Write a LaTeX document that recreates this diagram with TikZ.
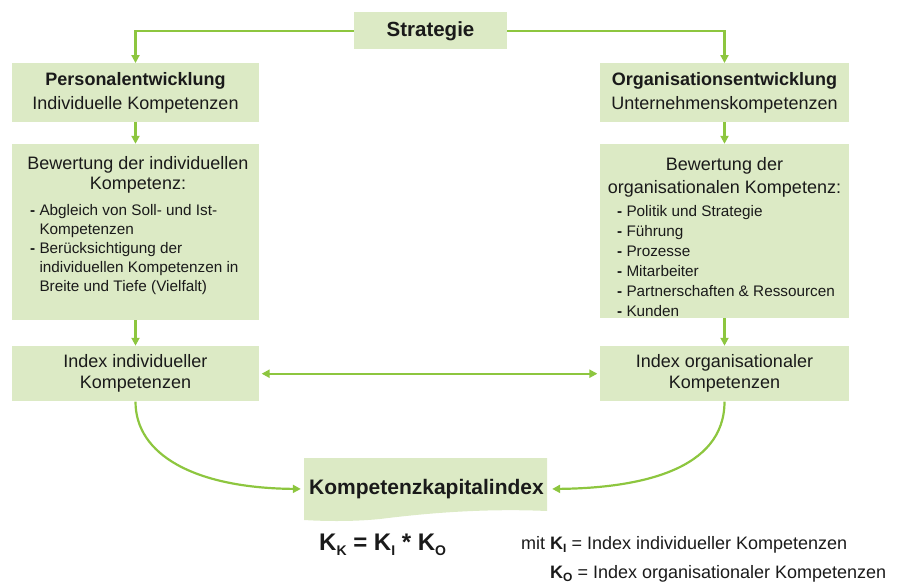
\documentclass[tikz,border=0pt]{standalone}
\usepackage{fontspec}
\setmainfont{Liberation Sans}
\usetikzlibrary{arrows.meta}
\definecolor{boxgreen}{RGB}{220,234,197}
\definecolor{arrgreen}{RGB}{141,198,63}
\definecolor{txtc}{RGB}{26,26,26}
\newcommand{\mysub}[2]{\raisebox{-#1}{\fontsize{14}{14}\selectfont\bfseries #2}}
\newcommand{\mysmallsub}[1]{\raisebox{-3.5pt}{\fontsize{12}{12}\selectfont\bfseries #1}}
\newcommand{\mydash}{\makebox[9.3pt][l]{\textbf{-}}}
\tikzset{
  box/.style={fill=boxgreen, inner sep=0pt, align=center, text=txtc, font=\fontsize{18}{24}\selectfont},
  conn/.style={draw=arrgreen, line width=2.2pt, -{Triangle[length=8pt,width=8pt]}},
  txtnode/.style={inner sep=0pt, text=txtc},
}
\begin{document}
\begin{tikzpicture}[x=1pt,y=-1pt]
\useasboundingbox (0,0) rectangle (903,584);
% boxes
\node[box, minimum width=153, minimum height=37, font=\fontsize{20.5}{24}\selectfont\bfseries] (strat) at (430.5,30.8) {Strategie};
\node[box, minimum width=247, minimum height=58.7] (pe) at (135.5,92.6) {\textbf{Personalentwicklung}\\Individuelle Kompetenzen};
\node[box, minimum width=249, minimum height=58.7] (oe) at (724.5,92.6) {\textbf{Organisationsentwicklung}\\Unternehmenskompetenzen};
\node[box, minimum width=247, minimum height=176] (bwl) at (135.5,232) {};
\node[box, minimum width=249, minimum height=174] (bwr) at (724.5,231) {};
\node[box, minimum width=247, minimum height=55.5, font=\fontsize{18}{21}\selectfont] (il) at (135.5,373.7) {Index individueller\\Kompetenzen};
\node[box, minimum width=249, minimum height=55.5, font=\fontsize{18}{21}\selectfont] (ir) at (724.5,373.7) {Index organisationaler\\Kompetenzen};
% texts of the evaluation boxes
\node[txtnode, anchor=north, align=center, font=\fontsize{18}{20.6}\selectfont] (bwlh) at (138,156) {Bewertung der individuellen\\Kompetenz:};
\node[txtnode, anchor=north west, align=left, font=\fontsize{15.3}{19}\selectfont] (bwll) at (30,204) {\mydash Abgleich von Soll- und Ist-\\\hspace*{9.3pt}Kompetenzen\\\mydash Berücksichtigung der\\\hspace*{9.3pt}individuellen Kompetenzen in\\\hspace*{9.3pt}Breite und Tiefe (Vielfalt)};
\node[txtnode, anchor=north, align=center, font=\fontsize{18}{23}\selectfont] (bwrh) at (724.5,157) {Bewertung der\\organisationalen Kompetenz:};
\node[txtnode, anchor=north west, align=left, font=\fontsize{15.3}{20}\selectfont] (bwrl) at (617,205) {\mydash Politik und Strategie\\\mydash Führung\\\mydash Prozesse\\\mydash Mitarbeiter\\\mydash Partnerschaften \& Ressourcen\\\mydash Kunden};
% result box (document shape)
\fill[boxgreen] (304,458) -- (547,458) -- (547,511) .. controls (480,508) and (420,514) .. (380,519) .. controls (350,522) and (320,521) .. (304,520) -- cycle;
\node[txtnode, minimum width=243, minimum height=62, font=\fontsize{21}{24}\selectfont\bfseries] (kki) at (426.5,489) {Kompetenzkapitalindex};
% connectors
\draw[conn] (strat.west) -| (pe.north);
\draw[conn] (strat.east) -| (oe.north);
\draw[conn] (pe.south) -- (bwl.north);
\draw[conn] (oe.south) -- (bwr.north);
\draw[conn] (bwl.south) -- (il.north);
\draw[conn] (bwr.south) -- (ir.north);
\draw[conn, {Triangle[length=8pt,width=8pt]}-{Triangle[length=8pt,width=8pt]}, shorten <=2.4pt, shorten >=2.4pt] (il.east) -- (ir.west);
\draw[conn, shorten >=4pt] (il.south) .. controls (135.5,455) and (195,488) .. (kki.west);
\draw[conn, shorten >=4pt] (ir.south) .. controls (724.5,470) and (640,488) .. (kki.east);
% formula and legend
\node[txtnode, anchor=base west, font=\fontsize{24}{28}\selectfont\bfseries] (form) at (319,550) {K\mysub{5pt}{K} = K\mysub{5pt}{I} * K\mysub{5pt}{O}};
\node[txtnode, anchor=base west, font=\fontsize{18}{20}\selectfont] (leg1) at (521,549) {mit \textbf{K}\mysmallsub{I} = Index individueller Kompetenzen};
\node[txtnode, anchor=base west, font=\fontsize{18}{20}\selectfont] (leg2) at (550,578) {\textbf{K}\mysmallsub{O} = Index organisationaler Kompetenzen};
\end{tikzpicture}
\end{document}
